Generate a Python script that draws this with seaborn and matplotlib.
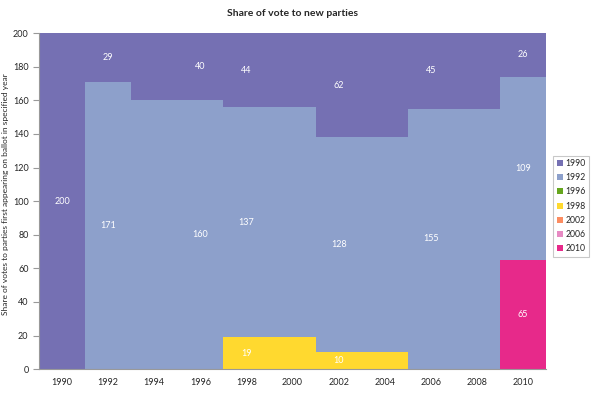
import numpy as np
import pandas as pd
import matplotlib
matplotlib.use('Agg')
import matplotlib.pyplot as plt
import seaborn as sns
from matplotlib.patches import Patch

# categories and series
years = ['1990', '1992', '1994', '1996', '1998', '2000', '2002', '2004', '2006', '2008', '2010']
s1990 = [200, 29, 40, 40, 44, 44, 62, 62, 45, 45, 26]
s1992 = [0, 171, 160, 160, 137, 137, 128, 128, 155, 155, 109]
s1996 = [0, 0, 0, 0, 0, 0, 0, 0, 0, 0, 0]
s1998 = [0, 0, 0, 0, 19, 19, 10, 10, 0, 0, 0]
s2002 = [0, 0, 0, 0, 0, 0, 0, 0, 0, 0, 0]
s2006 = [0, 0, 0, 0, 0, 0, 0, 0, 0, 0, 0]
s2010 = [0, 0, 0, 0, 0, 0, 0, 0, 0, 0, 65]
# columns that carry data labels
labelled = ['1990', '1992', '1996', '1998', '2002', '2006', '2010']

series = {'1990': s1990, '1992': s1992, '1996': s1996, '1998': s1998,
          '2002': s2002, '2006': s2006, '2010': s2010}
colors = {'1990': '#7570b3', '1992': '#8da0cb', '1996': '#66a61e', '1998': '#ffd92f',
          '2002': '#fc8d62', '2006': '#e78ac3', '2010': '#e7298a'}

sns.set_style('white')
plt.rcParams['font.family'] = ['Lato', 'DejaVu Sans']

df = pd.DataFrame(series, index=years)
# stacking goes newest at the bottom
stack_order = list(series.keys())[::-1]
cum = df[stack_order].cumsum(axis=1)

fig = plt.figure(figsize=(5.91, 3.94), dpi=100)
ax = fig.add_axes([0.066, 0.063, 0.858, 0.853])

# draw tallest cumulative first so lower layers sit on top
for name in stack_order[::-1]:
    sns.barplot(x=years, y=cum[name].values, color=colors[name], width=1.0,
                saturation=1, linewidth=0, ax=ax)

# data labels at segment centres
for i, yr in enumerate(years):
    if yr not in labelled:
        continue
    base = 0
    for name in stack_order:
        v = df.loc[yr, name]
        if v > 0:
            ax.text(i, base + v / 2, str(v), ha='center', va='center',
                    color='white', fontsize=6.5)
        base += v

ax.set_xlim(-0.5, len(years) - 0.5)
ax.set_ylim(0, 200)
ax.set_yticks(range(0, 201, 20))
ax.set_xticks(range(len(years)))
ax.set_xticklabels(years)
ax.set_xticks(np.arange(-0.5, len(years), 1), minor=True)
ax.tick_params(axis='x', which='major', length=0, labelsize=6.5, pad=6)
ax.tick_params(axis='x', which='minor', length=4, color='#999999')
ax.tick_params(axis='y', length=4, color='#999999', labelsize=6.5, left=True)
for sp in ['top', 'right']:
    ax.spines[sp].set_visible(False)
for sp in ['left', 'bottom']:
    ax.spines[sp].set_color('#999999')
    ax.spines[sp].set_linewidth(0.8)

ax.set_xlabel('')
ax.set_ylabel('Share of votes to parties first appearing on ballot in specified year', fontsize=6.0)
ax.yaxis.set_label_coords(-0.06, 0.52)
ax.set_title('Share of vote to new parties', fontsize=7.5, fontweight='bold', pad=12)

handles = [Patch(facecolor=colors[n], edgecolor='none', label=n) for n in series]
leg = fig.legend(handles=handles, loc='upper left', bbox_to_anchor=(0.936, 0.605),
                 fontsize=6.2, frameon=True, fancybox=False, handlelength=0.7,
                 handleheight=0.7, handletextpad=0.3, borderpad=0.4, labelspacing=0.6,
                 borderaxespad=0)
leg.get_frame().set_edgecolor('#bbbbbb')
leg.get_frame().set_linewidth(0.8)

fig.savefig('out.png', dpi=100)
